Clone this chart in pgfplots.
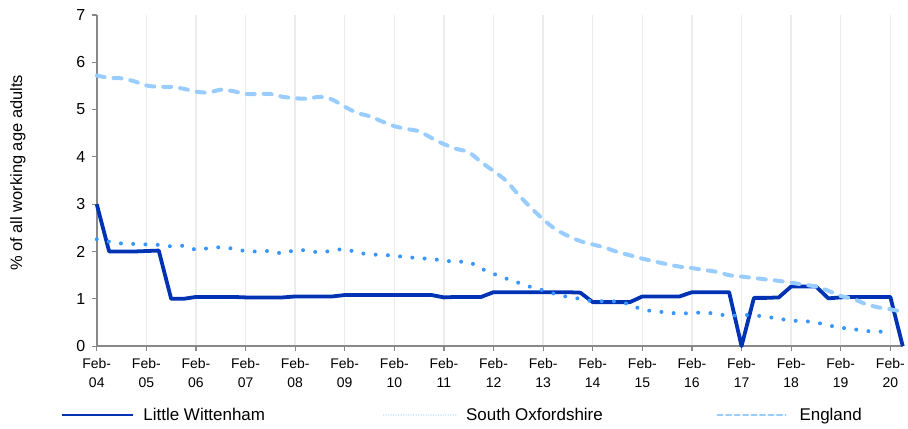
\documentclass[border=0pt]{standalone}
\usepackage{pgfplots}
\pgfplotsset{compat=1.18}
\usepackage{fontspec}
\setmainfont{Liberation Sans}
\definecolor{lwblue}{RGB}{0,51,180}
\definecolor{soblue}{RGB}{56,150,255}
\definecolor{engblue}{RGB}{153,204,255}
\definecolor{axgray}{RGB}{136,136,136}
\definecolor{gridgray}{RGB}{236,236,236}
\begin{document}
\begin{tikzpicture}
\begin{axis}[
  scale only axis, width=808bp, height=332bp,
  xmin=0, xmax=16.25, ymin=0, ymax=7,
  clip=false,
  axis x line*=bottom, axis y line*=left,
  axis line style={-, color=axgray, line width=1.5bp},
  tick style={color=axgray, line width=1.2bp},
  tick align=outside, major tick length=5bp,
  xtick={0,...,16},
  xticklabels={Feb-\\04,Feb-\\05,Feb-\\06,Feb-\\07,Feb-\\08,Feb-\\09,Feb-\\10,Feb-\\11,Feb-\\12,Feb-\\13,Feb-\\14,Feb-\\15,Feb-\\16,Feb-\\17,Feb-\\18,Feb-\\19,Feb-\\20},
  x tick label style={align=center, font=\fontsize{14bp}{18.5bp}\selectfont, yshift=-4bp},
  ytick={0,...,7},
  y tick label style={font=\fontsize{16bp}{18bp}\selectfont, xshift=-3bp},
  /pgf/number format/assume math mode=true,
  xmajorgrids, grid style={color=gridgray, line width=1.5bp},
  ylabel={\% of all working age adults},
  ylabel style={at={(axis description cs:-0.098,0.523)}, anchor=center, font=\fontsize{16.5bp}{18bp}\selectfont},
  legend style={at={(axis description cs:-0.0445,-0.208)}, anchor=west, draw=none, fill=none,
    inner sep=0pt, nodes={inner sep=0pt},
    font=\fontsize{17bp}{19bp}\selectfont, legend columns=3,
    /tikz/column sep=0pt},
]
\coordinate (O) at (rel axis cs:0,0);
% Little Wittenham
\addplot[lwblue, line width=3.8bp, line join=round,
  legend image code/.code={\draw[lwblue, line width=2.6bp] (0bp,0bp) -- (71bp,0bp);}] coordinates {
(0,3.0)(0.25,2.0)(0.5,2.0)(0.75,2.0)(1.0,2.01)(1.25,2.02)(1.5,1.0)(1.75,1.0)
(2.0,1.04)(2.25,1.04)(2.5,1.04)(2.75,1.04)(3.0,1.03)(3.25,1.03)(3.5,1.03)(3.75,1.03)
(4.0,1.05)(4.25,1.05)(4.5,1.05)(4.75,1.05)(5.0,1.08)(5.25,1.08)(5.5,1.08)(5.75,1.08)
(6.0,1.08)(6.25,1.08)(6.5,1.08)(6.75,1.08)(7.0,1.03)(7.25,1.04)(7.5,1.04)(7.75,1.04)
(8.0,1.14)(8.25,1.14)(8.5,1.14)(8.75,1.14)(9.0,1.14)(9.25,1.14)(9.5,1.14)(9.75,1.13)
(10.0,0.93)(10.25,0.93)(10.5,0.93)(10.75,0.93)(11.0,1.05)(11.25,1.05)(11.5,1.05)(11.75,1.05)
(12.0,1.14)(12.25,1.14)(12.5,1.14)(12.75,1.14)(13.0,0.0)(13.25,1.02)(13.5,1.02)(13.75,1.03)
(14.0,1.26)(14.25,1.26)(14.5,1.26)(14.75,1.01)(15.0,1.03)(15.25,1.04)(15.5,1.04)(15.75,1.04)
(16.0,1.04)(16.25,0.0)
};
\addlegendentry{\hspace{9bp}\makebox[240bp][l]{Little Wittenham}}
% South Oxfordshire
\addplot[soblue, line width=4bp, line cap=round, dash pattern=on 0bp off 12.3bp, smooth,
  legend image code/.code={\draw[soblue!35, line width=1.5bp, line cap=round, dash pattern=on 0bp off 2.5bp] (0bp,0bp) -- (73bp,0bp);}] coordinates {
(0,2.26)(0.25,2.21)(0.5,2.17)(0.75,2.16)(1.0,2.15)(1.25,2.14)(1.5,2.11)(1.75,2.12)
(2.0,2.04)(2.25,2.07)(2.5,2.09)(2.75,2.06)(3.0,2.01)(3.25,2.0)(3.5,2.01)(3.75,1.96)
(4.0,2.03)(4.25,2.02)(4.5,1.98)(4.75,2.02)(5.0,2.05)(5.25,1.98)(5.5,1.94)(5.75,1.93)
(6.0,1.91)(6.25,1.88)(6.5,1.86)(6.75,1.84)(7.0,1.81)(7.25,1.78)(7.5,1.78)(7.75,1.64)
(8.0,1.53)(8.25,1.43)(8.5,1.34)(8.75,1.25)(9.0,1.18)(9.25,1.10)(9.5,1.04)(9.75,1.0)
(10.0,0.95)(10.25,0.95)(10.5,0.94)(10.75,0.88)(11.0,0.77)(11.25,0.74)(11.5,0.71)(11.75,0.69)
(12.0,0.70)(12.25,0.71)(12.5,0.68)(12.75,0.64)(13.0,0.66)(13.25,0.65)(13.5,0.62)(13.75,0.58)
(14.0,0.54)(14.25,0.53)(14.5,0.50)(14.75,0.44)(15.0,0.39)(15.25,0.36)(15.5,0.32)(15.75,0.31)
(16.0,0.29)
};
\addlegendentry{\hspace{9bp}\makebox[251bp][l]{South Oxfordshire}}
% England
\addplot[engblue, line width=4bp, line cap=round, dash pattern=on 8bp off 9bp, smooth,
  legend image code/.code={\draw[engblue, line width=2.2bp, dash pattern=on 5bp off 3.5bp] (0bp,0bp) -- (68bp,0bp);}] coordinates {
(0,5.72)(0.25,5.67)(0.5,5.66)(0.75,5.60)(1.0,5.51)(1.25,5.48)(1.5,5.48)(1.75,5.44)
(2.0,5.38)(2.25,5.36)(2.5,5.42)(2.75,5.39)(3.0,5.33)(3.25,5.33)(3.5,5.33)(3.75,5.27)
(4.0,5.24)(4.25,5.23)(4.5,5.27)(4.75,5.21)(5.0,5.06)(5.25,4.93)(5.5,4.86)(5.75,4.75)
(6.0,4.65)(6.25,4.59)(6.5,4.54)(6.75,4.40)(7.0,4.27)(7.25,4.17)(7.5,4.10)(7.75,3.89)
(8.0,3.70)(8.25,3.50)(8.5,3.20)(8.75,2.93)(9.0,2.68)(9.25,2.47)(9.5,2.33)(9.75,2.22)
(10.0,2.15)(10.25,2.08)(10.5,1.99)(10.75,1.92)(11.0,1.85)(11.25,1.79)(11.5,1.73)(11.75,1.68)
(12.0,1.65)(12.25,1.61)(12.5,1.57)(12.75,1.50)(13.0,1.47)(13.25,1.44)(13.5,1.41)(13.75,1.38)
(14.0,1.34)(14.25,1.30)(14.5,1.26)(14.75,1.17)(15.0,1.06)(15.25,1.00)(15.5,0.89)(15.75,0.82)
(16.0,0.78)(16.25,0.72)
};
\addlegendentry{\hspace{13bp}England}
\end{axis}
\path[use as bounding box] ([shift={(-97bp,-83bp)}]O) rectangle ++(908bp,430bp);
\end{tikzpicture}
\end{document}
